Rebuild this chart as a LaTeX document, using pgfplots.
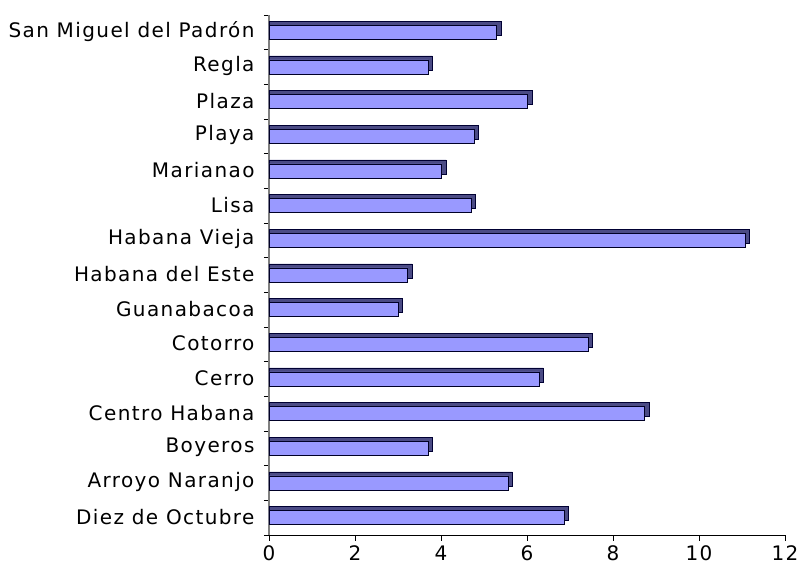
\documentclass[border=0pt]{standalone}
\usepackage{pgfplots}
\pgfplotsset{compat=1.18}
\usepackage{pgfplotstable}
\usepackage{fontspec}
\setmainfont{DejaVu Sans}
\newfontfamily\labfont[LetterSpace=7]{DejaVu Sans}
\definecolor{barfront}{HTML}{9999FF}
\definecolor{bardark}{HTML}{4B4B85}
\definecolor{axisgray}{HTML}{808080}
\pgfplotstableread{
idx v
0 6.86
1 5.56
2 3.70
3 8.74
4 6.28
5 7.42
6 3.00
7 3.23
8 11.07
9 4.70
10 4.02
11 4.77
12 6.02
13 3.70
14 5.30
}\datatab
\begin{document}
\begin{tikzpicture}
\begin{axis}[
  name=ax,
  scale only axis,
  width=516bp, height=520bp,
  xmin=0, xmax=12, ymin=-0.5, ymax=14.5,
  xtick={0,2,...,12},
  ytick={0,...,14},
  yticklabels={Diez de Octubre,Arroyo Naranjo,Boyeros,Centro Habana,Cerro,Cotorro,Guanabacoa,Habana del Este,Habana Vieja,Lisa,Marianao,Playa,Plaza,Regla,San Miguel del Padrón},
  minor ytick={-0.5,0.5,...,14.5},
  axis x line*=bottom, axis y line*=left,
  x axis line style={-, black, line width=0.8bp},
  y axis line style={-, axisgray, line width=2.5bp},
  tick align=outside,
  major tick length=6bp, minor tick length=5bp,
  major y tick style={draw=none},
  minor y tick style={draw=black, line width=0.8bp},
  major x tick style={draw=black, line width=0.8bp},
  /pgf/number format/assume math mode=true,
  yticklabel style={font=\labfont\fontsize{20bp}{22bp}\selectfont, xshift=-5bp, yshift=1bp},
  xticklabel style={font=\labfont\fontsize{20bp}{22bp}\selectfont, yshift=-1bp},
  clip=false,
]
\addplot[xbar, bar width=14bp, bar shift=4bp, fill=bardark, draw=black!80!blue, line width=0.6bp]
  table[x expr=\thisrow{v}+0.1, y=idx] {\datatab};
\addplot[xbar, bar width=14bp, bar shift=0bp, fill=barfront, draw=black!85!blue, line width=0.8bp]
  table[x=v, y=idx] {\datatab};
\end{axis}
\pgfresetboundingbox
\path[use as bounding box] ([shift={(-269bp,-33bp)}]ax.south west) rectangle ([shift={(532bp,535bp)}]ax.south west);
\end{tikzpicture}
\end{document}
